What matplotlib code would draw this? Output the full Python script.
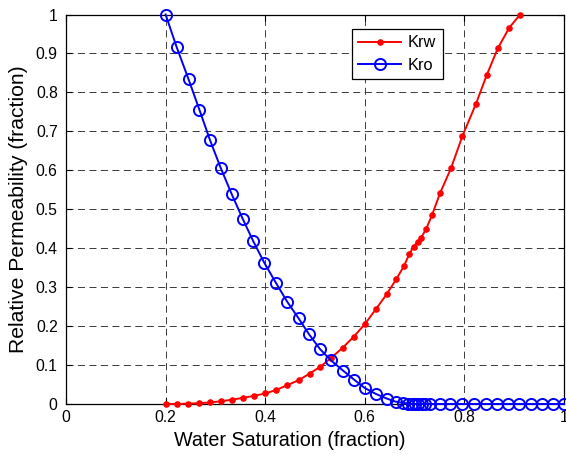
import matplotlib
matplotlib.use("Agg")
import matplotlib.pyplot as plt

plt.rcParams['font.family'] = ['Liberation Sans', 'DejaVu Sans']

# Water saturation values and relative permeabilities
sw_krw = [0.200, 0.222, 0.244, 0.267, 0.289, 0.311, 0.333, 0.356, 0.378, 0.400,
          0.422, 0.444, 0.467, 0.489, 0.511, 0.533, 0.556, 0.578, 0.600, 0.622,
          0.644, 0.663, 0.679, 0.689, 0.698, 0.706, 0.713, 0.723, 0.735, 0.751,
          0.773, 0.796, 0.823, 0.845, 0.867, 0.890, 0.912]
krw = [0.000, 0.000, 0.001, 0.002, 0.004, 0.007, 0.011, 0.016, 0.021, 0.027,
       0.036, 0.048, 0.061, 0.078, 0.096, 0.119, 0.145, 0.173, 0.205, 0.243,
       0.282, 0.320, 0.355, 0.384, 0.404, 0.417, 0.427, 0.449, 0.485, 0.541,
       0.605, 0.688, 0.770, 0.845, 0.913, 0.966, 1.000]

sw_kro = [0.200, 0.222, 0.246, 0.268, 0.289, 0.311, 0.333, 0.355, 0.376, 0.398,
          0.422, 0.444, 0.467, 0.488, 0.510, 0.532, 0.557, 0.579, 0.600, 0.622,
          0.644, 0.662, 0.676, 0.687, 0.694, 0.701, 0.707, 0.714, 0.721, 0.730,
          0.750, 0.771, 0.795, 0.820, 0.843, 0.866, 0.888, 0.910, 0.933, 0.955,
          0.977, 1.000]
kro = [1.000, 0.917, 0.834, 0.755, 0.678, 0.605, 0.538, 0.475, 0.418, 0.363,
       0.310, 0.263, 0.220, 0.179, 0.141, 0.112, 0.085, 0.062, 0.041, 0.026,
       0.014, 0.006, 0.003, 0.001, 0.000, 0.000, 0.000, 0.000, 0.000, 0.000,
       0.000, 0.000, 0.000, 0.000, 0.000, 0.000, 0.000, 0.000, 0.000, 0.000,
       0.000, 0.000]

x_ticks = [0, 0.2, 0.4, 0.6, 0.8, 1]
x_tick_labels = ['0', '0.2', '0.4', '0.6', '0.8', '1']
y_ticks = [0, 0.1, 0.2, 0.3, 0.4, 0.5, 0.6, 0.7, 0.8, 0.9, 1]
y_tick_labels = ['0', '0.1', '0.2', '0.3', '0.4', '0.5', '0.6', '0.7', '0.8', '0.9', '1']

fig = plt.figure(figsize=(5.66, 4.54), dpi=100)
ax = fig.add_axes([66/566, 1-404/454, (564-66)/566, (404-14.5)/454])

ax.plot(sw_krw, krw, color='#ff0000', lw=1.4, marker='.', ms=7.5,
        label='Krw', clip_on=False, zorder=3)
ax.plot(sw_kro, kro, color='#0000ff', lw=1.4, marker='o', ms=8,
        mfc='none', mew=1.4, label='Kro', clip_on=False, zorder=3)

ax.set_xlim(0, 1)
ax.set_ylim(0, 1)
ax.set_xticks(x_ticks)
ax.set_xticklabels(x_tick_labels)
ax.set_yticks(y_ticks)
ax.set_yticklabels(y_tick_labels)
ax.tick_params(direction='in', length=4, width=0.8, labelsize=11.3,
               top=True, right=True)
ax.tick_params(axis='y', pad=6)
ax.tick_params(axis='x', pad=4)
ax.grid(True, color='#3a3a3a', linestyle=(0, (7.2, 4.6)), linewidth=0.7)

for s in ax.spines.values():
    s.set_linewidth(0.9)
    s.set_zorder(2.5)

ax.set_xlabel('Water Saturation (fraction)', fontsize=14.2)
ax.set_ylabel('Relative Permeability (fraction)', fontsize=15.2)
ax.xaxis.set_label_coords((290 - 66) / 498, -(440 - 404) / 389.5)
ax.yaxis.set_label_coords(-(66 - 19) / 498, 0.5)
ax.xaxis.label.set_va('center')
ax.yaxis.label.set_va('center')

leg = ax.legend(loc='upper left', bbox_to_anchor=(0.574, 0.963), fontsize=11.8,
                frameon=True, fancybox=False, edgecolor='black', framealpha=1,
                handlelength=2.6, borderpad=0.4, labelspacing=0.45,
                handletextpad=0.4, borderaxespad=0)
leg.get_frame().set_linewidth(0.9)

fig.savefig('out.png', dpi=100)
